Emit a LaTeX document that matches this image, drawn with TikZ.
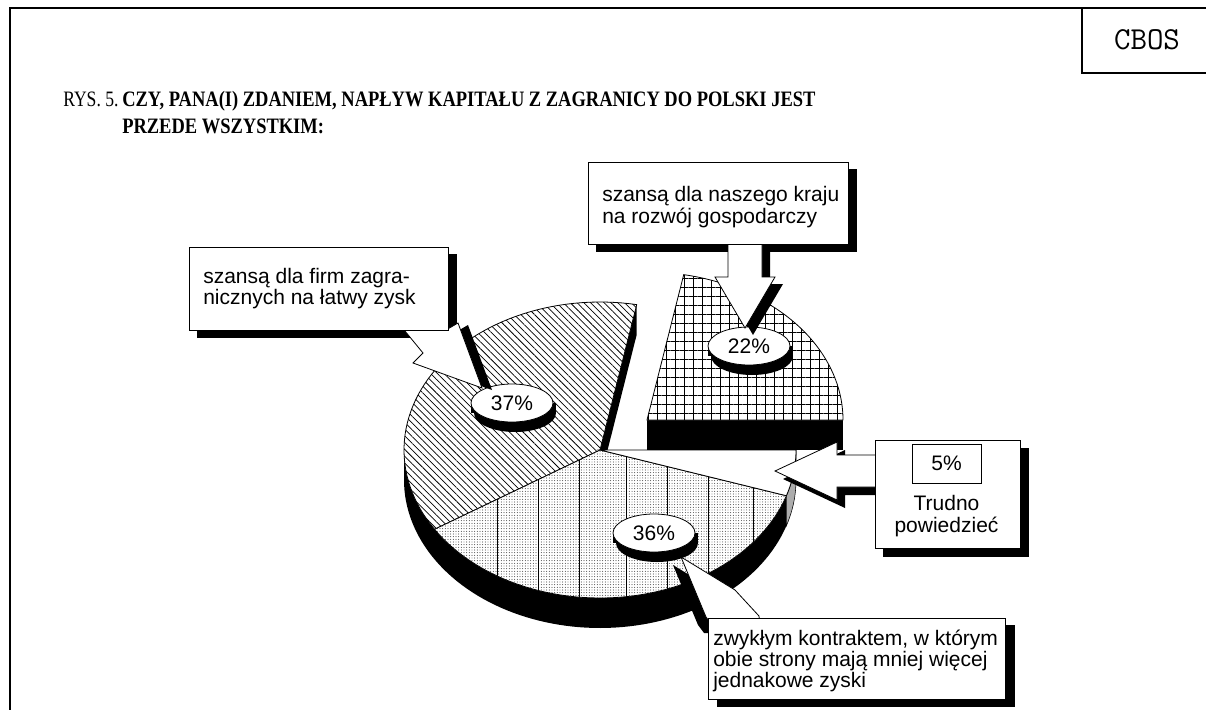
\documentclass[tikz,border=0pt]{standalone}
\usepackage{fontspec}
\setmainfont{Liberation Serif}
\newfontfamily\sansA{Liberation Sans}
\usetikzlibrary{patterns.meta,shapes.geometric}
\pgfdeclarelayer{pielayer}
\pgfdeclarelayer{shadlayer}
\pgfdeclarelayer{arrlayer}
\pgfsetlayers{pielayer,shadlayer,arrlayer,main}
\begin{document}
\begin{tikzpicture}[x=0.75pt,y=-0.75pt,
  frameline/.style={line width=1.6pt},
  callbox/.style={draw=black,line width=0.75pt,fill=white,inner sep=0pt},
  ctext/.style={font=\sansA\fontsize{15.75}{16}\selectfont,inner sep=0pt,align=left},
  titletext/.style={anchor=base west,inner sep=0pt,font=\fontsize{16.5}{18}\selectfont},
  pctdisk/.style={ellipse,draw=black,line width=0.6pt,fill=white,minimum width=61.5pt,minimum height=28.5pt,inner sep=0pt,font=\sansA\fontsize{15.75}{16}\selectfont},
  arrowshape/.style={fill=white,draw=black,line width=0.6pt,line join=miter},
  sliceline/.style={draw=black,line width=0.6pt}]
\useasboundingbox (0,0) rectangle (1206,710);
\def\RA{196}\def\RB{148}
\begin{pgfonlayer}{pielayer}
\fill[white] (0,0) rectangle (1206,710);
% 22% slice (exploded)
\fill[black] (647,420) rectangle (843,450);
\path[preaction={fill=white},pattern={Hatch[distance=6.75pt,line width=0.55pt]},sliceline]
  (647,420) -- plot[domain=0:79.2,samples=40] ({647+\RA*cos(\x)},{420-\RB*sin(\x)}) -- cycle;
% sides of the main pie
\fill[black] (600,450) -- ({600+\RA*cos(79.2)},{450-\RB*sin(79.2)}) -- ++(0,30) -- (600,480) -- cycle;
\fill[black] plot[domain=180:342,samples=80] ({600+\RA*cos(\x)},{450-\RB*sin(\x)})
  -- plot[domain=342:180,samples=80] ({600+\RA*cos(\x)},{480-\RB*sin(\x)}) -- cycle;
\filldraw[fill=gray!65,draw=black,line width=0.4pt] plot[domain=342:360,samples=12] ({600+\RA*cos(\x)},{450-\RB*sin(\x)})
  -- plot[domain=360:342,samples=12] ({600+\RA*cos(\x)},{480-\RB*sin(\x)}) -- cycle;
% 37% slice
\path[preaction={fill=white},pattern={Lines[angle=-45,distance=3.6pt,line width=0.55pt]},sliceline]
  (600,450) -- plot[domain=79.2:212.4,samples=60] ({600+\RA*cos(\x)},{450-\RB*sin(\x)}) -- cycle;
% 36% slice
\path[preaction={fill=white},pattern={Dots[distance=2pt,radius=0.32pt]},sliceline]
  (600,450) -- plot[domain=212.4:342,samples=60] ({600+\RA*cos(\x)},{450-\RB*sin(\x)}) -- cycle;
\begin{scope}
\clip (600,450) -- plot[domain=212.4:342,samples=60] ({600+\RA*cos(\x)},{450-\RB*sin(\x)}) -- cycle;
\foreach \vx in {497,538,579,626,667,708,753}
  \draw[line width=0.5pt] (\vx,430) -- (\vx,610);
\end{scope}
% 5% slice
\path[fill=white,sliceline]
  (600,450) -- plot[domain=342:360,samples=12] ({600+\RA*cos(\x)},{450-\RB*sin(\x)}) -- cycle;
% percentage disks
\foreach \nm/\px/\py/\tx in {d37/512/403/37,d22/749/346/22,d36/654/533/36}{
  \fill[black] (\px+3,\py+10) ellipse[x radius=41,y radius=19];
  \fill[black] (\px-41,\py) rectangle (\px+44,\py+10);
  \node[pctdisk] (\nm) at (\px,\py) {\tx\%};
}
\end{pgfonlayer}
% frame and headings
\draw[frameline] (10,8) -- (1206,8);
\draw[frameline] (10,7.2) -- (10,710);
\draw[frameline] (1082,8) -- (1082,73) -- (1206,73);
\node[font=\ttfamily\fontsize{24}{24}\selectfont,inner sep=0pt] (cbos) at (1147,40) {CBOS};
\node[titletext] (rys) at (63,106) {\scalebox{0.8}[1]{RYS. 5.}};
\node[titletext] (tt1) at (122,106) {\scalebox{0.84}[1]{\bfseries CZY, PANA(I) ZDANIEM, NAPŁYW KAPITAŁU Z ZAGRANICY DO POLSKI JEST}};
\node[titletext] (tt2) at (122,133) {\scalebox{0.84}[1]{\bfseries PRZEDE WSZYSTKIM:}};
% callout boxes
\node[callbox,minimum width=194.25pt,minimum height=62.25pt] (bA) at (318.5,288.5) {};
\node[ctext,anchor=west] (tA) at (203,288.5) {szansą dla firm zagra-\\nicznych na łatwy zysk};
\node[callbox,minimum width=195pt,minimum height=61.5pt] (bB) at (718,203) {};
\node[ctext,anchor=west] (tB) at (602,207) {szansą dla naszego kraju\\na rozwój gospodarczy};
\node[callbox,minimum width=108.75pt,minimum height=81pt] (bC) at (947.5,494) {};
\node[callbox,minimum width=51.75pt,minimum height=29.25pt,font=\sansA\fontsize{15.75}{16}\selectfont] (pC) at (946.5,463.5) {5\%};
\node[ctext,align=center] (tC) at (946.5,516) {Trudno\\powiedzieć};
\node[callbox,minimum width=222.75pt,minimum height=60.75pt] (bD) at (856.5,658.5) {};
\node[ctext,anchor=west] (tD) at (713,661) {zwykłym kontraktem, w którym\\obie strony mają mniej więcej\\jednakowe zyski};
% shadows
\begin{pgfonlayer}{shadlayer}
\fill[black] ([shift={(8,7)}]bA.south west) rectangle ([shift={(8,7)}]bA.north east);
\fill[black] ([shift={(8,7)}]bB.south west) rectangle ([shift={(8,7)}]bB.north east);
\fill[black] ([shift={(8,8)}]bC.south west) rectangle ([shift={(8,8)}]bC.north east);
\fill[black] ([shift={(9,7)}]bD.south west) rectangle ([shift={(9,7)}]bD.north east);
\fill[black,shift={(10,2)}] (400,325) -- (423,353) -- (413,363) -- (482,388) -- (458,323) -- (446,330) -- (440,322) -- cycle;
\fill[black,shift={(8,7)}] (728,240) -- (728,277) -- (715,277) -- (745,328) -- (775,277) -- (762,277) -- (762,240) -- cycle;
\fill[black,shift={(8,8)}] (880,455) -- (837,455) -- (837,442) -- (775,471) -- (837,500) -- (837,487) -- (880,487) -- cycle;
\fill[black,shift={(-8,8)}] (712,625) -- (706,617) -- (681,557) -- (735,590) -- (759,616) -- (760,625) -- cycle;
\end{pgfonlayer}
% arrows
\begin{pgfonlayer}{arrlayer}
\path[arrowshape] (400,325) -- (423,353) -- (413,363) -- (482,388) -- (458,323) -- (446,330) -- (440,322) -- cycle;
\path[arrowshape] (728,240) -- (728,277) -- (715,277) -- (745,328) -- (775,277) -- (762,277) -- (762,240) -- cycle;
\path[arrowshape] (880,455) -- (837,455) -- (837,442) -- (775,471) -- (837,500) -- (837,487) -- (880,487) -- cycle;
\path[arrowshape] (712,625) -- (706,617) -- (681,557) -- (735,590) -- (759,616) -- (760,625) -- cycle;
\end{pgfonlayer}
\end{tikzpicture}
\end{document}
